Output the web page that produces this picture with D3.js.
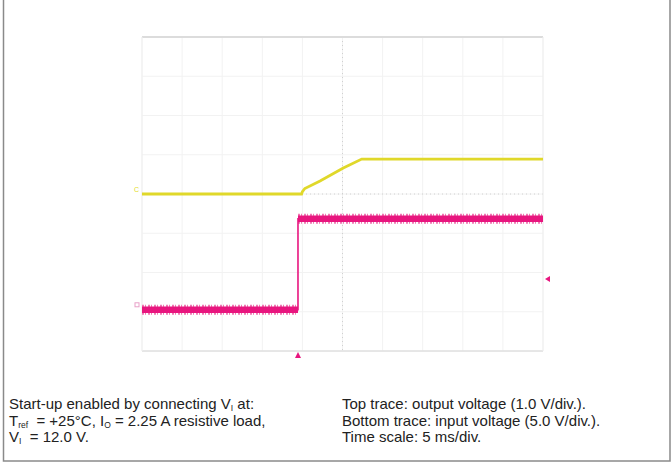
<!DOCTYPE html>
<html><head><meta charset="utf-8">
<script src="https://cdn.jsdelivr.net/npm/d3@7"></script>
<style>body{margin:0;background:#fff}svg{display:block}text{font-family:"Liberation Sans",Arial,sans-serif;fill:#222}</style>
</head><body><svg id="c" width="672" height="462"></svg>
<script>
// time in ms (0..50, 5 ms/div), volts
const outTime  = [0, 19.9, 20.0, 20.3, 22.2, 25.1, 27.4, 50];
const outVolts = [0, 0, 0.06, 0.14, 0.33, 0.66, 0.89, 0.89];
const inTime   = [0, 19.45, 19.45, 50];
const inVolts  = [0, 0, 11.6, 11.6];
const outScale = 1.0;   // V/div
const inScale  = 5.0;   // V/div
const outOffsetDiv = 0;
const inOffsetDiv = -2.95;
const hDivs = [0,1,2,3,4,5,6,7,8,9,10];
const vDivs = [-4,-3,-2,-1,0,1,2,3,4];
const leftLines = [["Start-up enabled by connecting V",["I"]," at:"],
  ["T",["ref"],"  = +25°C, I",["O"]," = 2.25 A resistive load,"],
  ["V",["I"],"  = 12.0 V."]];
const rightLines = ["Top trace: output voltage (1.0 V/div.).",
  "Bottom trace: input voltage (5.0 V/div.).",
  "Time scale: 5 ms/div."];

const svg = d3.select("#c");
const x = d3.scaleLinear().domain([0,50]).range([142,543]);
const xd = d3.scaleLinear().domain([0,10]).range([142,543]);
const y = d3.scaleLinear().domain([-4,4]).range([351,37]);

// outer frame
svg.append("rect").attr("x",3.5).attr("y",-2).attr("width",666.5).attr("height",463)
  .attr("fill","none").attr("stroke","#8a8a8a").attr("stroke-width",1.5);

const g = svg.append("g");
// grid
g.selectAll("line.v").data(hDivs).join("line").attr("x1",d=>xd(d)).attr("x2",d=>xd(d))
  .attr("y1",y(4)).attr("y2",y(-4)).attr("stroke","#f2f2f2").attr("stroke-width",1);
g.selectAll("line.h").data(vDivs).join("line").attr("y1",d=>y(d)).attr("y2",d=>y(d))
  .attr("x1",xd(0)).attr("x2",xd(10)).attr("stroke","#f2f2f2").attr("stroke-width",1);
// center crosshair dotted
g.append("line").attr("x1",xd(5)).attr("x2",xd(5)).attr("y1",y(4)).attr("y2",y(-4))
  .attr("stroke","#d0d0d0").attr("stroke-dasharray","1,3");
g.append("line").attr("y1",y(0)).attr("y2",y(0)).attr("x1",xd(0)).attr("x2",xd(10))
  .attr("stroke","#d0d0d0").attr("stroke-dasharray","1,3");
// frame of screen
g.append("line").attr("x1",xd(0)).attr("x2",xd(10)).attr("y1",y(4)).attr("y2",y(4)).attr("stroke","#dcdcdc").attr("stroke-width",2);
g.append("line").attr("x1",xd(0)).attr("x2",xd(10)).attr("y1",y(-4)).attr("y2",y(-4)).attr("stroke","#e0e0e0").attr("stroke-width",1.5);
g.append("line").attr("x1",xd(0)).attr("x2",xd(0)).attr("y1",y(4)).attr("y2",y(-4)).attr("stroke","#efefef");
g.append("line").attr("x1",xd(10)).attr("x2",xd(10)).attr("y1",y(4)).attr("y2",y(-4)).attr("stroke","#efefef");

// traces
const inLine = d3.line().x(d=>x(d[0])).y(d=>y(d[1]/inScale+inOffsetDiv));
const outLine = d3.line().x(d=>x(d[0])).y(d=>y(d[1]/outScale+outOffsetDiv));
const inData = inTime.map((t,i)=>[t,inVolts[i]]);
const outData = outTime.map((t,i)=>[t,outVolts[i]]);
const segs = [[inData[0],inData[1]],[inData[2],inData[3]]];
g.selectAll("path.halo").data(segs).join("path").attr("d",inLine).attr("fill","none")
  .attr("stroke","#f07ab4").attr("stroke-width",10).attr("stroke-dasharray","2,1,1,2");
g.selectAll("path.band").data(segs).join("path").attr("d",inLine).attr("fill","none")
  .attr("stroke","#e8167f").attr("stroke-width",6.5);
g.append("path").attr("d",inLine(inData)).attr("fill","none").attr("stroke","#e8167f").attr("stroke-width",1.6);
g.append("path").attr("d",outLine(outData)).attr("fill","none").attr("stroke","#e0d82a").attr("stroke-width",2.8);

// markers
g.append("text").attr("x",xd(0)-8).attr("y",y(outOffsetDiv)-2).attr("font-size",7).style("fill","#e3dc2a").text("C");
g.append("rect").attr("x",xd(0)-7).attr("y",y(inOffsetDiv)-7).attr("width",4).attr("height",4)
  .attr("fill","none").attr("stroke","#e8a0c8").attr("stroke-width",1);
const tx = x(inTime[1]);
g.append("path").attr("d",`M${tx},${y(-4)+1}L${tx+3},${y(-4)+7}L${tx-3},${y(-4)+7}Z`).attr("fill","#e8167f");
const ty = 279;
g.append("path").attr("d",`M${xd(10)+2},${ty}L${xd(10)+7},${ty-3}L${xd(10)+7},${ty+3}Z`).attr("fill","#e8167f");

// captions
function addLine(xp, yp, parts){
  const t = svg.append("text").attr("x",xp).attr("y",yp).attr("font-size",15).attr("xml:space","preserve").style("white-space","pre");
  let prevSub = false;
  parts.forEach(p=>{
    if(Array.isArray(p)) { t.append("tspan").attr("font-size",8.5).attr("dy",2).text(p[0]); prevSub = true; }
    else {
      const s = t.append("tspan").text(p);
      if (prevSub) s.attr("dy",-2);
      prevSub = false;
    }
  });
}
leftLines.forEach((l,i)=>addLine(9,409+16.5*i,l));
rightLines.forEach((l,i)=>addLine(342,409+16.5*i,[l]));
</script></body></html>
